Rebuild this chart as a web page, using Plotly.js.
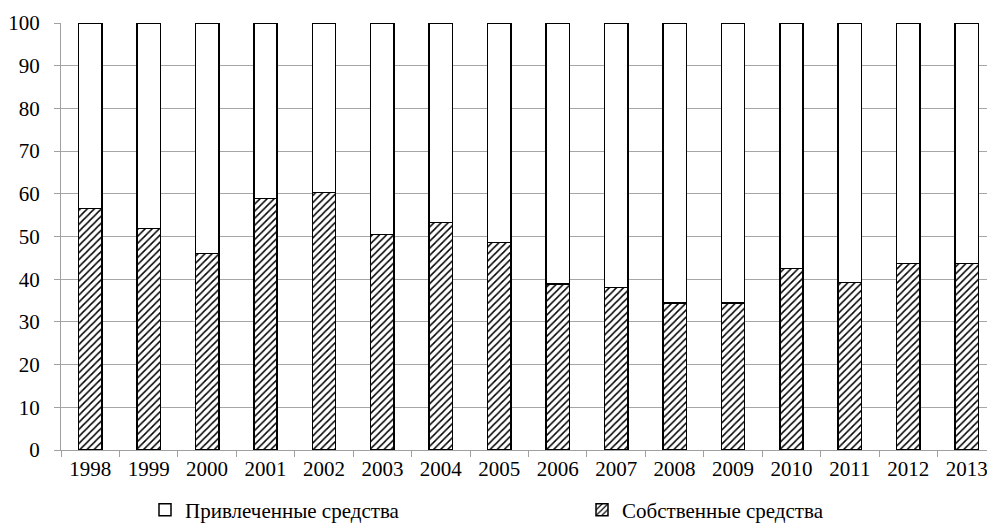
<!DOCTYPE html>
<html>
<head>
<meta charset="utf-8">
<script src="https://cdn.plot.ly/plotly-3.0.1.min.js"></script>
<style>
html,body{margin:0;padding:0;overflow:hidden;background:#fff;}
#chart{width:1000px;height:528px;}
</style>
</head>
<body>
<div id="chart"></div>
<script>
const years = ['1998','1999','2000','2001','2002','2003','2004','2005','2006','2007','2008','2009','2010','2011','2012','2013'];
const ownFunds = [56.6, 51.9, 46.0, 58.9, 60.3, 50.5, 53.3, 48.6, 38.9, 38.1, 34.4, 34.4, 42.5, 39.2, 43.7, 43.7];
const borrowedFunds = [43.4, 48.1, 54.0, 41.1, 39.7, 49.5, 46.7, 51.4, 61.1, 61.9, 65.6, 65.6, 57.5, 60.8, 56.3, 56.3];
const nameOwn = 'Собственные средства';
const nameBorrowed = 'Привлеченные средства';

const fontFamily = 'Liberation Serif, Times New Roman, serif';
const fontSize = 21;

const traces = [
  {
    type: 'bar', x: years, y: ownFunds, name: nameOwn, legend: 'legend2',
    marker: {
      color: '#ffffff',
      line: {color: '#000000', width: 1.5},
      pattern: {shape: '/', fgcolor: '#000000', bgcolor: '#ffffff', size: 5, solidity: 0.3}
    },
    hoverinfo: 'x+y'
  },
  {
    type: 'bar', x: years, y: borrowedFunds, name: nameBorrowed, legend: 'legend',
    marker: {color: '#ffffff', line: {color: '#000000', width: 1.5}},
    hoverinfo: 'x+y'
  }
];

const legendCommon = {
  orientation: 'h',
  xref: 'container', yref: 'container',
  xanchor: 'left', yanchor: 'middle',
  y: 1 - 510 / 528,
  bgcolor: 'rgba(0,0,0,0)',
  font: {family: fontFamily, size: fontSize, color: '#000000'},
  itemwidth: 30
};

const layout = {
  width: 1000, height: 528,
  margin: {l: 61, r: 4, t: 23, b: 78},
  barmode: 'stack',
  bargap: 0.6,
  paper_bgcolor: '#ffffff',
  plot_bgcolor: '#ffffff',
  font: {family: fontFamily, size: fontSize, color: '#000000'},
  showlegend: true,
  legend: Object.assign({}, legendCommon, {x: 145 / 1000}),
  legend2: Object.assign({}, legendCommon, {x: 582 / 1000}),
  xaxis: {
    type: 'category',
    showgrid: false,
    showline: true, linecolor: '#a0a0a0', linewidth: 1,
    ticks: 'outside', tickson: 'boundaries', ticklen: 6, tickcolor: '#a0a0a0',
    tickfont: {family: fontFamily, size: fontSize, color: '#000000'},
    fixedrange: true
  },
  yaxis: {
    range: [0, 100], dtick: 10,
    showgrid: true, gridcolor: '#a6a6a6', gridwidth: 1,
    showline: true, linecolor: '#a0a0a0', linewidth: 1,
    ticks: 'outside', ticklen: 6, tickcolor: '#a0a0a0',
    ticklabelstandoff: 10,
    tickfont: {family: fontFamily, size: fontSize, color: '#000000'},
    zeroline: false,
    fixedrange: true
  }
};

Plotly.newPlot('chart', traces, layout, {displayModeBar: false, staticPlot: true});
</script>
</body>
</html>
